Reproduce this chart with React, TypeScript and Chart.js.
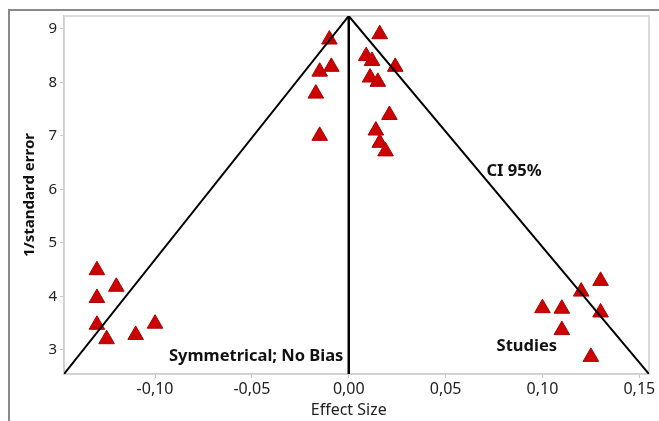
import React, { useEffect, useRef } from "react";
import { Chart, registerables } from "chart.js";

Chart.register(...registerables);

// Studies (effect size, 1/standard error)
const studyEffect = [
  -0.13, -0.12, -0.13, -0.13, -0.125, -0.11, -0.10,
  0.13, 0.12, 0.10, 0.11, 0.13, 0.11, 0.125,
  -0.01, -0.009, -0.015, -0.017, -0.015,
  0.016, 0.009, 0.012, 0.024, 0.011, 0.015, 0.021, 0.014, 0.016, 0.019,
];
const studyPrecision = [
  4.49, 4.18, 3.97, 3.47, 3.2, 3.28, 3.49,
  4.29, 4.09, 3.78, 3.77, 3.7, 3.37, 2.87,
  8.8, 8.29, 8.2, 7.79, 7.0,
  8.9, 8.49, 8.4, 8.29, 8.09, 8.01, 7.39, 7.1, 6.87, 6.71,
];

// Funnel (CI 95%) and line of no bias
const funnelX = [-0.147, 0, 0.155];
const funnelY = [2.55, 9.24, 2.55];
const centerX = [0, 0];
const centerY = [2.55, 9.24];

const xMin = -0.147;
const xMax = 0.155;
const yMin = 2.55;
const yMax = 9.24;

// Annotations
const noteTexts = ["CI 95%", "Symmetrical; No Bias", "Studies"];
const noteX = [0.0711, -0.0928, 0.0763];
const noteY = [6.33, 2.89, 3.06];

const xTitle = "Effect Size";
const xTitleAt = 0;

const FONT = "'Noto Sans', 'Open Sans', sans-serif";

const framePlugin = {
  id: "framePlugin",
  beforeDraw(chart: any) {
    const { ctx, chartArea } = chart;
    ctx.save();
    ctx.fillStyle = "#ffffff";
    ctx.fillRect(0, 0, chart.width, chart.height);
    ctx.strokeStyle = "#8a8a8a";
    ctx.lineWidth = 2;
    ctx.beginPath();
    ctx.moveTo(9, chart.height);
    ctx.lineTo(9, 10);
    ctx.lineTo(chart.width, 10);
    ctx.stroke();
    ctx.strokeStyle = "#d0d0d0";
    ctx.lineWidth = 1.5;
    ctx.strokeRect(
      chartArea.left,
      chartArea.top,
      chartArea.right - chartArea.left,
      chartArea.bottom - chartArea.top
    );
    ctx.restore();
  },
  afterDatasetsDraw(chart: any) {
    const { ctx } = chart;
    const xs = chart.scales.x;
    const ys = chart.scales.y;
    ctx.save();
    ctx.fillStyle = "#111111";
    ctx.font = `bold 16.5px ${FONT}`;
    ctx.textAlign = "left";
    ctx.textBaseline = "middle";
    noteTexts.forEach((t, i) => {
      ctx.fillText(t, xs.getPixelForValue(noteX[i]), ys.getPixelForValue(noteY[i]));
    });
    // x-axis title, centred under the zero line as in the source
    ctx.fillStyle = "#222222";
    ctx.font = `16px ${FONT}`;
    ctx.textAlign = "center";
    ctx.textBaseline = "middle";
    ctx.fillText(xTitle, xs.getPixelForValue(xTitleAt), xs.bottom - 11);
    ctx.restore();
  },
};

export default function App() {
  const ref = useRef<HTMLCanvasElement | null>(null);

  useEffect(() => {
    document.body.style.margin = "0";
    if (!ref.current) return;
    const chart = new Chart(ref.current, {
      type: "scatter",
      data: {
        datasets: [
          {
            type: "line",
            label: "CI 95%",
            data: funnelX.map((x, i) => ({ x, y: funnelY[i] })),
            borderColor: "#000000",
            borderWidth: 2,
            pointRadius: 0,
            fill: false,
            tension: 0,
          } as any,
          {
            type: "line",
            label: "No Bias",
            data: centerX.map((x, i) => ({ x, y: centerY[i] })),
            borderColor: "#000000",
            borderWidth: 2.5,
            pointRadius: 0,
            fill: false,
          } as any,
          {
            label: "Studies",
            data: studyEffect.map((x, i) => ({ x, y: studyPrecision[i] })),
            pointStyle: "triangle",
            pointRadius: 9,
            backgroundColor: "#cc0000",
            borderColor: "#b00000",
            borderWidth: 1,
          },
        ],
      },
      options: {
        animation: false,
        responsive: false,
        layout: { padding: { top: 16, right: 8, left: 0, bottom: 0 } },
        plugins: {
          legend: { display: false },
          tooltip: { enabled: false },
        },
        scales: {
          x: {
            type: "linear",
            min: xMin,
            max: xMax,
            afterFit: (s: any) => {
              s.height = 47;
            },
            border: { display: true, color: "#d0d0d0", width: 1.5 },
            grid: { drawOnChartArea: false, tickLength: 4, color: "#c8c8c8" },
            ticks: {
              stepSize: 0.05,
              includeBounds: false,
              color: "#222222",
              font: { family: FONT, size: 16 },
              padding: 2,
              maxRotation: 0,
              callback: (v: any) => Number(v).toFixed(2).replace(".", ","),
            },
            title: { display: false, text: xTitle },
          },
          y: {
            type: "linear",
            min: yMin,
            max: yMax,
            afterFit: (s: any) => {
              s.width = 64;
            },
            border: { display: true, color: "#d0d0d0", width: 1.5 },
            grid: { drawOnChartArea: false, tickLength: 4, color: "#c8c8c8" },
            ticks: {
              stepSize: 1,
              includeBounds: false,
              color: "#222222",
              font: { family: FONT, size: 15 },
              padding: 3,
            },
            title: {
              display: true,
              text: "1/standard error",
              color: "#111111",
              font: { family: FONT, size: 15, weight: "bold" },
              padding: { top: 21, bottom: 0 },
            },
          },
        },
      },
      plugins: [framePlugin],
    });
    return () => chart.destroy();
  }, []);

  return (
    <div style={{ width: 659, height: 421 }}>
      <canvas ref={ref} width={659} height={421} style={{ display: "block" }} />
    </div>
  );
}
